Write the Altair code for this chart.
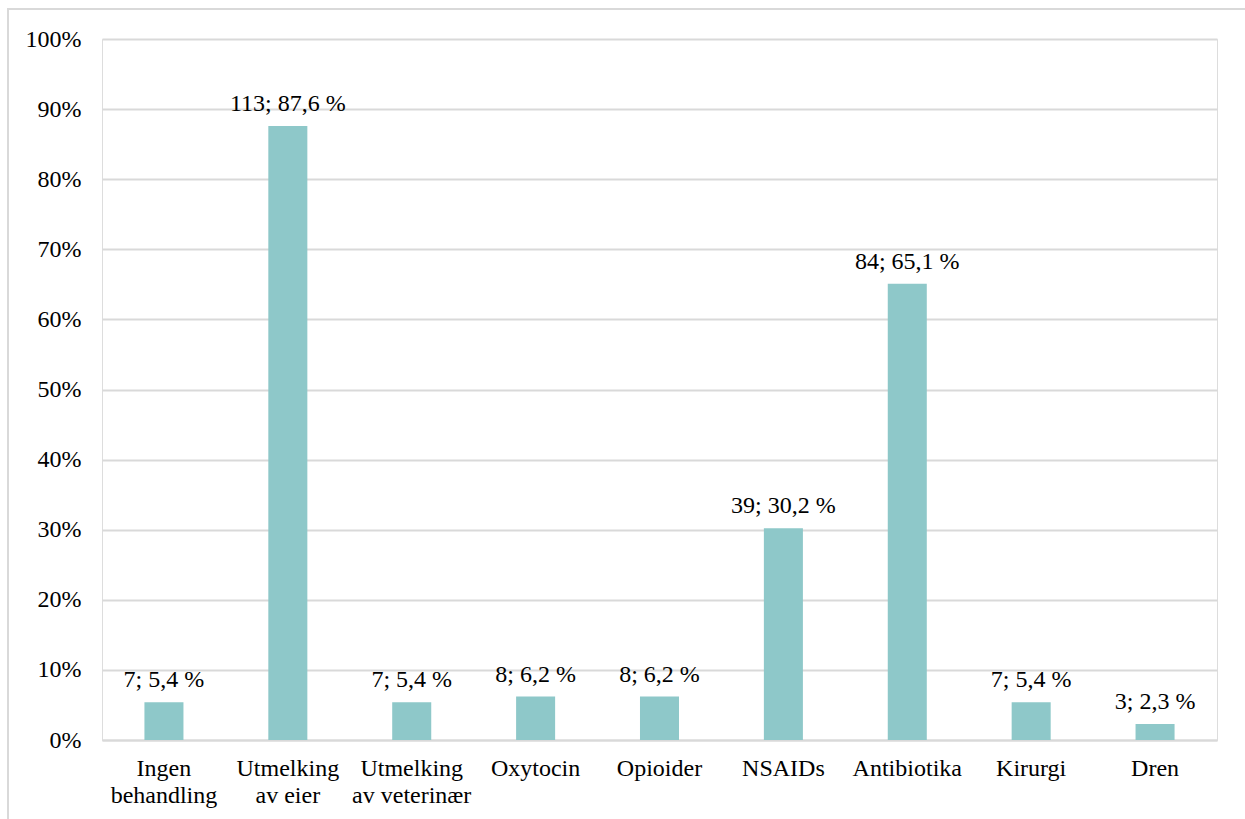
import altair as alt
import pandas as pd

# Treatment categories (line breaks mark the wrapped axis labels)
categories = [
    "Ingen\nbehandling",
    "Utmelking\nav eier",
    "Utmelking\nav veterinær",
    "Oxytocin",
    "Opioider",
    "NSAIDs",
    "Antibiotika",
    "Kirurgi",
    "Dren",
]
counts = [7, 113, 7, 8, 8, 39, 84, 7, 3]
percents = [5.4, 87.6, 5.4, 6.2, 6.2, 30.2, 65.1, 5.4, 2.3]

labels = [f"{n}; {str(p).replace('.', ',')} %" for n, p in zip(counts, percents)]

df = pd.DataFrame({
    "kategori": categories,
    "antall": counts,
    "prosent": percents,
    "etikett": labels,
})

FONT = "Liberation Serif, Times New Roman, serif"
SIZE = 24
BAR = "#8EC8C9"
GRID = "#D9D9D9"

x_enc = alt.X(
    "kategori:N",
    sort=categories,
    title=None,
    scale=alt.Scale(paddingInner=0.685, paddingOuter=0.3425),
    axis=alt.Axis(
        labelAngle=0,
        labelExpr="split(datum.label, '\\n')",
        labelFont=FONT,
        labelFontSize=SIZE,
        labelColor="black",
        labelPadding=16,
        labelLineHeight=27,
        labelBaseline="top",
        ticks=False,
        domainColor=GRID,
        domainWidth=2,
        grid=False,
    ),
)

y_enc = alt.Y(
    "prosent:Q",
    title=None,
    scale=alt.Scale(domain=[0, 100]),
    axis=alt.Axis(
        values=list(range(0, 101, 10)),
        labelExpr="datum.value + '%'",
        labelFont=FONT,
        labelFontSize=SIZE,
        labelColor="black",
        labelPadding=21,
        ticks=False,
        domain=False,
        grid=True,
        gridColor=GRID,
        gridWidth=2,
    ),
)

bars = alt.Chart(df).mark_bar(color=BAR).encode(x=x_enc, y=y_enc)

text = alt.Chart(df).mark_text(
    font=FONT, fontSize=SIZE, color="black", baseline="bottom", dy=-10
).encode(
    x=alt.X("kategori:N", sort=categories),
    y="prosent:Q",
    text="etikett:N",
)

# Light frame around the whole chart
frame = alt.Chart(pd.DataFrame({"f": [0]})).mark_rect(
    fill=None, stroke=GRID, strokeWidth=2
).encode(
    x=alt.value(-94), x2=alt.value(1160),
    y=alt.value(-30), y2=alt.value(800),
)

chart = alt.layer(frame, bars, text).properties(
    width=1115,
    height=701,
    autosize=alt.AutoSizeParams(type="none"),
    padding={"left": 102, "top": 39, "right": 28, "bottom": 79},
).configure_view(stroke=None).configure(background="white")

chart.save("out.html", embed_options={"renderer": "svg", "actions": False})
